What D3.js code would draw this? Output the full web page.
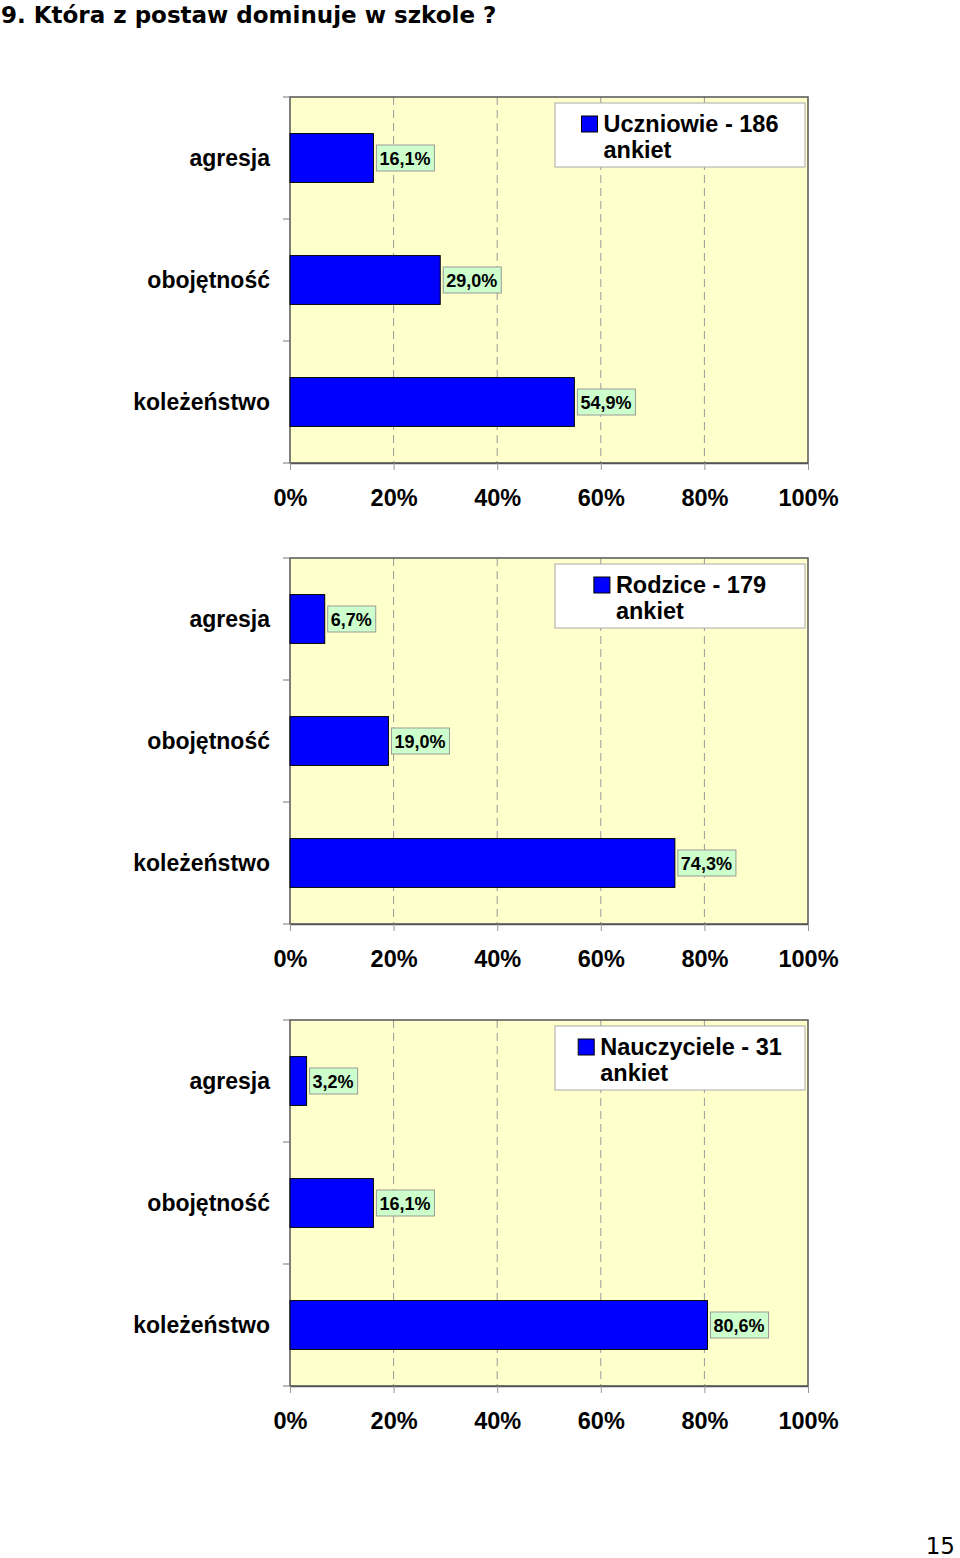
<!DOCTYPE html>
<html>
<head>
<meta charset="utf-8">
<script src="https://cdn.jsdelivr.net/npm/d3@7"></script>
<style>
  body { margin: 0; background: #fff; }
  svg text { font-family: "Liberation Sans", Arial, sans-serif; font-weight: bold; }
</style>
</head>
<body>
<div id="page"></div>
<script>
// data
var categories = ["agresja", "obojętność", "koleżeństwo"];
var groups = ["Uczniowie - 186", "Rodzice - 179", "Nauczyciele - 31"];
var uczniowie = [16.1, 29.0, 54.9];
var rodzice = [6.7, 19.0, 74.3];
var nauczyciele = [3.2, 16.1, 80.6];
var tickValues = [0, 20, 40, 60, 80, 100];

var seriesList = [uczniowie, rodzice, nauczyciele];

var svg = d3.select("#page").append("svg")
  .attr("width", 960)
  .attr("height", 1558);

svg.append("text")
  .attr("x", 1).attr("y", 23)
  .style("font-family", "'DejaVu Sans', Verdana, sans-serif")
  .style("font-weight", "bold")
  .style("font-size", "23px")
  .text("9. Która z postaw dominuje w szkole ?");

svg.append("text")
  .attr("x", 955).attr("y", 1554)
  .attr("text-anchor", "end")
  .style("font-family", "'DejaVu Sans', Verdana, sans-serif")
  .style("font-weight", "normal")
  .style("font-size", "23px")
  .text("15");

var x = d3.scaleLinear().domain([0, 100]).range([290, 808]);
var fmt = function(v) { return v.toFixed(1).replace(".", ",") + "%"; };

function drawChart(values, name, top) {
  var g = svg.append("g");
  var y = d3.scaleBand().domain(categories).range([top, top + 366]).paddingInner(0.6).paddingOuter(0.3);

  // plot area
  g.append("rect")
    .attr("x", x(0)).attr("y", top)
    .attr("width", x(100) - x(0)).attr("height", 366)
    .attr("fill", "#ffffcc");

  // dashed grid
  g.selectAll(".grid").data(tickValues.slice(1, -1)).enter().append("line")
    .attr("x1", d => x(d)).attr("x2", d => x(d))
    .attr("y1", top).attr("y2", top + 366)
    .attr("stroke", "#999")
    .attr("stroke-dasharray", "8,5");

  // frame
  g.append("rect")
    .attr("x", x(0)).attr("y", top)
    .attr("width", x(100) - x(0)).attr("height", 366)
    .attr("fill", "none")
    .attr("stroke", "#555")
    .attr("stroke-width", 1.5);

  // left ticks at band boundaries
  var bounds = [top, top + 122, top + 244, top + 366];
  g.selectAll(".ytick").data(bounds).enter().append("line")
    .attr("x1", 283).attr("x2", 290)
    .attr("y1", d => d).attr("y2", d => d)
    .attr("stroke", "#777");

  // bottom axis
  var axis = g.append("g")
    .attr("transform", "translate(0," + (top + 366) + ")")
    .call(d3.axisBottom(x).tickValues(tickValues).tickSize(7).tickSizeOuter(0).tickFormat(d => d + "%"));
  axis.select(".domain").attr("stroke", "#555").attr("stroke-width", 1.5);
  axis.selectAll(".tick line").attr("stroke", "#999");
  axis.selectAll(".tick text")
    .attr("y", 26)
    .style("font-size", "23.5px")
    .attr("fill", "#000");

  // category labels
  g.selectAll(".cat").data(categories).enter().append("text")
    .attr("x", 270)
    .attr("y", d => y(d) + y.bandwidth() / 2 + 8)
    .attr("text-anchor", "end")
    .style("font-size", "23px")
    .text(d => d);

  // bars
  g.selectAll(".bar").data(values).enter().append("rect")
    .attr("x", x(0))
    .attr("y", (d, i) => y(categories[i]))
    .attr("width", d => x(d) - x(0))
    .attr("height", y.bandwidth())
    .attr("fill", "#0000ff")
    .attr("stroke", "#000")
    .attr("stroke-width", 1);

  // value labels
  values.forEach(function(v, i) {
    var cy = y(categories[i]) + y.bandwidth() / 2;
    var lab = g.append("g");
    var t = lab.append("text")
      .attr("x", x(v) + 6)
      .attr("y", cy + 7)
      .style("font-size", "18px")
      .text(fmt(v));
    var w = t.node().getComputedTextLength();
    lab.insert("rect", "text")
      .attr("x", x(v) + 3).attr("y", cy - 13)
      .attr("width", w + 7).attr("height", 26)
      .attr("fill", "#ccffcc")
      .attr("stroke", "#999");
  });

  // legend
  var lg = g.append("g");
  lg.append("rect")
    .attr("x", 555).attr("y", top + 6)
    .attr("width", 250).attr("height", 64)
    .attr("fill", "#fff")
    .attr("stroke", "#aaa");
  var l1 = lg.append("text")
    .attr("x", 0).attr("y", top + 35)
    .style("font-size", "23.5px")
    .text(name);
  var lw = l1.node().getComputedTextLength();
  var sx = 555 + (250 - (lw + 22)) / 2;
  l1.attr("x", sx + 22);
  lg.append("text")
    .attr("x", sx + 22).attr("y", top + 61)
    .style("font-size", "23.5px")
    .text("ankiet");
  lg.append("rect")
    .attr("x", sx).attr("y", top + 19)
    .attr("width", 16).attr("height", 16)
    .attr("fill", "#0000ff")
    .attr("stroke", "#000");
}

var tops = [97, 558, 1020];
seriesList.forEach(function(vals, i) {
  drawChart(vals, groups[i], tops[i]);
});
</script>
</body>
</html>
